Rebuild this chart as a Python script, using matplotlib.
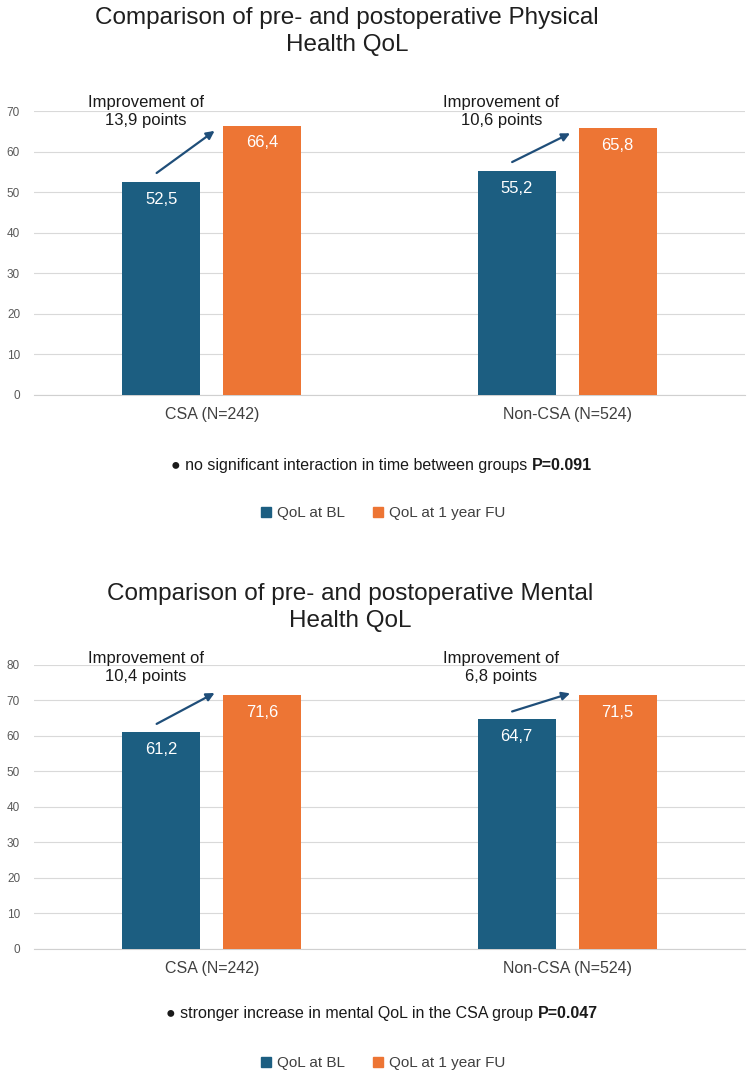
import matplotlib
matplotlib.use("Agg")
import matplotlib.pyplot as plt
from matplotlib.lines import Line2D
import numpy as np

plt.rcParams["font.family"] = ["Liberation Sans", "DejaVu Sans"]

# data
groups = ["CSA (N=242)", "Non-CSA (N=524)"]
series = ["QoL at BL", "QoL at 1 year FU"]

physical_bl = [52.5, 55.2]
physical_fu = [66.4, 65.8]
physical_gain = ["13,9", "10,6"]

mental_bl = [61.2, 64.7]
mental_fu = [71.6, 71.5]
mental_gain = ["10,4", "6,8"]

titles = ["Comparison of pre- and postoperative Physical\nHealth QoL",
          "Comparison of pre- and postoperative Mental\nHealth QoL"]
notes = [("no significant interaction in time between groups ", "P=0.091"),
         ("stronger increase in mental QoL in the CSA group ", "P=0.047")]
y_max = [70, 80]

BLUE = "#1C5E81"
ORANGE = "#ED7534"
ARROW = "#1F4E79"

# layout of the two panels (figure fractions / data offsets)
panels = [
    dict(rect=[0.0453, 0.6347, 0.948, 0.2625], title=(0.463, 0.971),
         note_y=0.5694, legend_y=0.525, text_y=69.9, arrow_end=-1.3),
    dict(rect=[0.0453, 0.1213, 0.948, 0.263], title=(0.467, 0.4375),
         note_y=0.062, legend_y=0.0157, text_y=79.2, arrow_end=0.5),
]

fig = plt.figure(figsize=(7.5, 10.8), dpi=100)
x = np.arange(len(groups))
width = 0.22
offset = 0.142

data = [(physical_bl, physical_fu, physical_gain), (mental_bl, mental_fu, mental_gain)]

for i, (bl, fu, gain) in enumerate(data):
    p = panels[i]
    ax = fig.add_axes(p["rect"])
    b1 = ax.bar(x - offset, bl, width, color=BLUE, zorder=3)
    b2 = ax.bar(x + offset, fu, width, color=ORANGE, zorder=3)

    for bars, vals in ((b1, bl), (b2, fu)):
        for bar, v in zip(bars, vals):
            ax.annotate(f"{v:.1f}".replace(".", ","),
                        (bar.get_x() + bar.get_width() / 2, v),
                        xytext=(0, -12.5), textcoords="offset points",
                        ha="center", va="center", color="white", fontsize=12, zorder=4)

    for j in range(len(groups)):
        ax.annotate("", xy=(x[j] + 0.008, fu[j] + p["arrow_end"]),
                    xytext=(x[j] - 0.155, bl[j] + 2.2),
                    arrowprops=dict(arrowstyle="-|>", color=ARROW, lw=1.6,
                                    mutation_scale=12, shrinkA=0, shrinkB=0),
                    zorder=5)
        ax.text(x[j] - 0.185, p["text_y"], f"Improvement of\n{gain[j]} points",
                ha="center", va="center", fontsize=12, color="#1a1a1a",
                linespacing=1.25, zorder=5)

    ax.set_xlim(-0.5, 1.5)
    ax.set_ylim(0, y_max[i])
    ax.set_yticks(np.arange(0, y_max[i] + 1, 10))
    ax.set_xticks(x)
    ax.set_xticklabels(groups)
    ax.yaxis.grid(True, color="#D9D9D9", lw=0.8, zorder=0)
    ax.set_axisbelow(True)
    for s in ("top", "right", "left"):
        ax.spines[s].set_visible(False)
    ax.spines["bottom"].set_color("#D0D0D0")
    ax.tick_params(axis="y", length=0, pad=10, labelsize=8.5, labelcolor="#595959")
    ax.tick_params(axis="x", length=0, pad=9, labelsize=11.5, labelcolor="#404040")

    fig.text(p["title"][0], p["title"][1], titles[i], ha="center", va="center",
             fontsize=17.5, color="#1f1f1f", linespacing=1.3)

    # note: regular text + bold p-value, centred together
    t1 = fig.text(0, p["note_y"], "\u25CF " + notes[i][0], ha="left", va="center",
                  fontsize=11.5, color="#1a1a1a")
    t2 = fig.text(0, p["note_y"], notes[i][1], ha="left", va="center",
                  fontsize=11.5, fontweight="bold", color="#1a1a1a")
    fig.canvas.draw()
    r = fig.canvas.get_renderer()
    w1 = t1.get_window_extent(r).width / fig.bbox.width
    w2 = t2.get_window_extent(r).width / fig.bbox.width
    start = 0.509 - (w1 + w2) / 2
    t1.set_x(start)
    t2.set_x(start + w1)

    handles = [Line2D([], [], marker="s", linestyle="none", color=c, markersize=7)
               for c in (BLUE, ORANGE)]
    fig.legend(handles, series, loc="center", bbox_to_anchor=(0.51, p["legend_y"]),
               ncol=2, frameon=False, fontsize=11, handlelength=0.8,
               handletextpad=0.3, columnspacing=1.8, labelcolor="#404040")

fig.savefig("out.png", dpi=100)
